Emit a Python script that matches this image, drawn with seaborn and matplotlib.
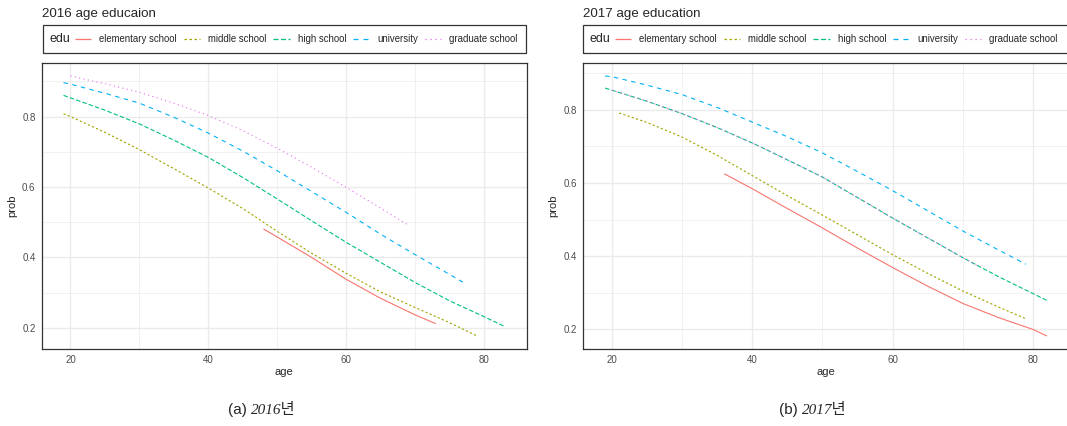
import pandas as pd
import matplotlib
matplotlib.use("Agg")
import matplotlib.pyplot as plt
import seaborn as sns
from matplotlib.lines import Line2D
from matplotlib.patches import Rectangle

# categories and styling order (ggplot default hue palette / linetypes)
edu_levels = ['elementary school', 'middle school', 'high school', 'university', 'graduate school']
edu_colors = ['#F8766D', '#A3A500', '#00BF7D', '#00B0F6', '#E76BF3']
edu_dashes = [(1, 0), (2, 2), (4, 2), (4, 4), (1, 3)]

# 2016 values
age16_elem = [48, 50, 55, 60, 65, 70, 73]
prob16_elem = [0.481, 0.458, 0.400, 0.338, 0.284, 0.237, 0.212]
age16_mid = [19, 20, 25, 30, 35, 40, 45, 50, 55, 60, 65, 70, 75, 79]
prob16_mid = [0.808, 0.800, 0.755, 0.706, 0.652, 0.597, 0.539, 0.474, 0.412, 0.355, 0.302, 0.258, 0.215, 0.177]
age16_high = [19, 20, 25, 30, 35, 40, 45, 50, 55, 60, 65, 70, 75, 80, 83]
prob16_high = [0.860, 0.853, 0.818, 0.779, 0.733, 0.684, 0.627, 0.566, 0.504, 0.443, 0.386, 0.329, 0.277, 0.232, 0.204]
age16_univ = [19, 20, 25, 30, 35, 40, 45, 50, 55, 60, 65, 70, 75, 77]
prob16_univ = [0.896, 0.892, 0.866, 0.838, 0.798, 0.753, 0.702, 0.646, 0.587, 0.528, 0.466, 0.408, 0.352, 0.329]
age16_grad = [20, 25, 30, 35, 40, 45, 50, 55, 60, 65, 69]
prob16_grad = [0.915, 0.893, 0.869, 0.838, 0.803, 0.760, 0.710, 0.656, 0.599, 0.540, 0.492]

# 2017 values
age17_elem = [36, 40, 45, 50, 55, 60, 65, 70, 75, 80, 82]
prob17_elem = [0.625, 0.584, 0.530, 0.477, 0.422, 0.369, 0.318, 0.271, 0.233, 0.200, 0.182]
age17_mid = [21, 25, 30, 35, 40, 45, 50, 55, 60, 65, 70, 75, 79]
prob17_mid = [0.791, 0.765, 0.725, 0.675, 0.620, 0.565, 0.512, 0.458, 0.404, 0.353, 0.305, 0.262, 0.229]
age17_high = [19, 20, 25, 30, 35, 40, 45, 50, 55, 60, 65, 70, 75, 80, 82]
prob17_high = [0.859, 0.853, 0.823, 0.789, 0.751, 0.709, 0.663, 0.616, 0.560, 0.504, 0.450, 0.396, 0.345, 0.298, 0.279]
age17_univ = [19, 20, 25, 30, 35, 40, 45, 50, 55, 60, 65, 70, 75, 79]
prob17_univ = [0.892, 0.890, 0.867, 0.841, 0.806, 0.766, 0.726, 0.682, 0.631, 0.579, 0.524, 0.469, 0.418, 0.378]
age17_grad = [20, 25, 30, 35, 40, 45, 50, 55, 60, 65, 70, 72]
prob17_grad = [0.853, 0.823, 0.789, 0.751, 0.709, 0.663, 0.616, 0.560, 0.504, 0.450, 0.396, 0.375]

titles = ['2016 age educaion', '2017 age education']
captions = [('(a)', '2016년'), ('(b)', '2017년')]


def build(series):
    rows = []
    for edu, ages, probs in series:
        for a, p in zip(ages, probs):
            rows.append((edu, a, p))
    return pd.DataFrame(rows, columns=['edu', 'age', 'prob'])


df16 = build(zip(edu_levels,
                 [age16_elem, age16_mid, age16_high, age16_univ, age16_grad],
                 [prob16_elem, prob16_mid, prob16_high, prob16_univ, prob16_grad]))
df17 = build(zip(edu_levels,
                 [age17_elem, age17_mid, age17_high, age17_univ, age17_grad],
                 [prob17_elem, prob17_mid, prob17_high, prob17_univ, prob17_grad]))

sns.set_style('white')
plt.rcParams['font.family'] = ['Liberation Sans', 'DejaVu Sans']

W, H = 1067, 426
fig = plt.figure(figsize=(W / 100, H / 100), dpi=100)


def fx(px):
    return px / W


def fy(py):
    return 1 - py / H


# pixel layout of each panel: axes left/right, legend box, caption position
panels = [
    dict(df=df16, left=41.5, right=526.7, box=(43, 526), cap_x=247),
    dict(df=df17, left=583, right=1069, box=(583, 1069), cap_x=798),
]
top, bottom = 63, 349

for i, p in enumerate(panels):
    ax = fig.add_axes([fx(p['left']), fy(bottom), fx(p['right'] - p['left']), (bottom - top) / H])
    sns.lineplot(data=p['df'], x='age', y='prob', hue='edu', style='edu',
                 hue_order=edu_levels, style_order=edu_levels,
                 palette=dict(zip(edu_levels, edu_colors)),
                 dashes=dict(zip(edu_levels, edu_dashes)),
                 estimator=None, sort=False, linewidth=0.8, legend=False, ax=ax)
    ax.margins(x=0.05, y=0.05)
    ax.set_xticks([20, 40, 60, 80])
    ax.set_yticks([0.2, 0.4, 0.6, 0.8])
    ax.set_xticks([30, 50, 70], minor=True)
    ax.set_yticks([0.3, 0.5, 0.7, 0.9], minor=True)
    ax.grid(which='major', color='#EBEBEB', lw=1.0)
    ax.grid(which='minor', color='#EBEBEB', lw=0.5)
    ax.set_axisbelow(True)
    ax.tick_params(which='major', length=2.75, width=0.6, color='#333333',
                   labelsize=7, labelcolor='#4D4D4D', pad=1.5)
    ax.tick_params(which='minor', length=0)
    for s in ax.spines.values():
        s.set_color('#333333')
        s.set_linewidth(0.9)
    ax.set_xlabel('age', fontsize=8, labelpad=1.5)
    ax.set_ylabel('prob', fontsize=8, labelpad=3.5)

    # title and the boxed horizontal legend on top
    fig.text(fx(p['left']), fy(17), titles[i], fontsize=9.6, va='baseline', ha='left')
    x0, x1 = p['box']
    fig.patches.append(Rectangle((fx(x0), fy(53)), fx(x1 - x0), 28 / H, transform=fig.transFigure,
                                 fill=False, edgecolor='#333333', lw=0.9))
    fig.text(fx(x0 + 6), fy(39), 'edu', fontsize=9, va='center', ha='left')
    handles = [Line2D([], [], color=c, lw=0.9, dashes=d) for c, d in zip(edu_colors, edu_dashes)]
    fig.legend(handles, edu_levels, loc='center left', bbox_to_anchor=(fx(x0 + 32), fy(39)),
               ncol=5, frameon=False, fontsize=6.9, handlelength=1.7, handletextpad=0.85,
               columnspacing=0.7, borderpad=0, borderaxespad=0)

    # sub-figure caption
    lab, yr = captions[i]
    fig.text(fx(p['cap_x']), fy(410), lab, fontsize=11, ha='right', va='center')
    fig.text(fx(p['cap_x'] + 4), fy(410), yr, fontsize=11, ha='left', va='center',
             family=['Liberation Serif', 'Noto Sans CJK KR'], style='italic')

fig.savefig('out.png', dpi=100)
